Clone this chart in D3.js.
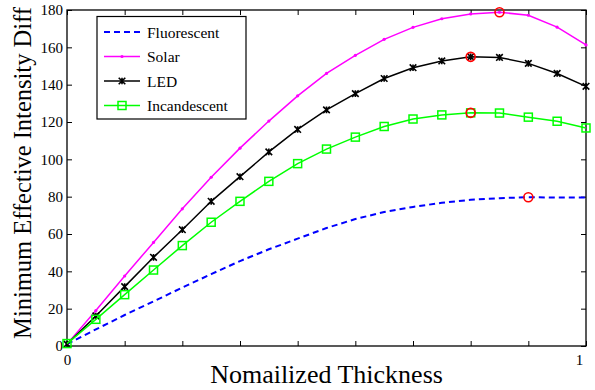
<!DOCTYPE html>
<html>
<head>
<meta charset="utf-8">
<script src="https://cdn.jsdelivr.net/npm/d3@7"></script>
<style>
  body { margin: 0; background: #fff; }
</style>
</head>
<body>
<div id="chart"></div>
<script>
var width = 595,
    height = 390,
    margin = {top: 10, right: 9, bottom: 44, left: 67},
    serif = '"Liberation Serif", "Times New Roman", Times, serif';

// normalised thickness, 19 samples
var thickness = [0, 0.0556, 0.1111, 0.1667, 0.2222, 0.2778, 0.3333, 0.3889, 0.4444, 0.5,
                 0.5556, 0.6111, 0.6667, 0.7222, 0.7778, 0.8333, 0.8889, 0.9444, 1];

var fluorescent = [1, 8.9, 16.6, 23.9, 31.3, 38.5, 45.5, 51.8, 57.5, 63.2,
                   68.0, 71.8, 74.5, 76.7, 78.3, 79.2, 79.7, 79.5, 79.5];
var solar = [1, 19, 37.5, 55.5, 73.5, 90.4, 106, 120.5, 134, 146,
             155.7, 164.3, 170.7, 175.3, 177.9, 178.8, 177.2, 170.8, 161.3];
var led = [1, 16.1, 31.8, 47.5, 62.3, 77.5, 90.7, 104.0, 116.0, 126.5,
           135.2, 143.3, 149.1, 152.7, 154.9, 154.6, 151.4, 146.0, 139.1];
var incandescent = [1.3, 14.3, 27.5, 40.7, 53.8, 66.3, 77.5, 88.2, 97.7, 105.5,
                    111.9, 117.6, 121.6, 123.8, 124.9, 124.8, 122.6, 120.4, 116.8];

var seriesNames = ['Fluorescent', 'Solar', 'LED', 'Incandescent'];
var yTicks = [0, 20, 40, 60, 80, 100, 120, 140, 160, 180];
var xTicks = [0, 1/9, 2/9, 3/9, 4/9, 5/9, 6/9, 7/9, 8/9, 1];
var xTickLabels = {0: '0', 1: '1'};

var series = [
  {name: seriesNames[0], values: fluorescent, color: '#0000ff', dash: '6,4', marker: 'none'},
  {name: seriesNames[1], values: solar, color: '#ff00ff', dash: null, marker: 'dot'},
  {name: seriesNames[2], values: led, color: '#000000', dash: null, marker: 'star'},
  {name: seriesNames[3], values: incandescent, color: '#00ff00', dash: null, marker: 'square'}
];

var svg = d3.select('#chart').append('svg')
    .attr('width', width)
    .attr('height', height);

var w = width - margin.left - margin.right,
    h = height - margin.top - margin.bottom;

var x = d3.scaleLinear().domain([0, 1]).range([margin.left, margin.left + w]);
var y = d3.scaleLinear().domain([0, 180]).range([margin.top + h, margin.top]);

// axes (ticks point inward, box all round)
function styleAxis(g) {
  g.attr('font-family', serif);
  g.select('.domain').remove();
  g.selectAll('.tick line').attr('stroke', '#000').attr('stroke-width', 1);
  g.selectAll('.tick text')
    .style('font-family', serif)
    .style('font-size', '15px')
    .attr('fill', '#000');
}

svg.append('g')
    .attr('transform', 'translate(0,' + (margin.top + h) + ')')
    .call(d3.axisBottom(x).tickValues(xTicks).tickSizeInner(-5).tickSizeOuter(0)
      .tickPadding(8).tickFormat(function(d) { return xTickLabels[d] || ''; }))
    .call(styleAxis)
    .selectAll('.tick text')
    .attr('dx', function(d) { return d === 1 ? -7 : 0; });

svg.append('g')
    .attr('transform', 'translate(0,' + margin.top + ')')
    .call(d3.axisTop(x).tickValues(xTicks).tickSizeInner(-5).tickSizeOuter(0).tickFormat(''))
    .call(styleAxis);

svg.append('g')
    .attr('transform', 'translate(' + margin.left + ',0)')
    .call(d3.axisLeft(y).tickValues(yTicks).tickSizeInner(-5).tickSizeOuter(0).tickPadding(4))
    .call(styleAxis);

svg.append('g')
    .attr('transform', 'translate(' + (margin.left + w) + ',0)')
    .call(d3.axisRight(y).tickValues(yTicks).tickSizeInner(-5).tickSizeOuter(0).tickFormat(''))
    .call(styleAxis);

svg.append('rect')
    .attr('x', margin.left).attr('y', margin.top)
    .attr('width', w).attr('height', h)
    .attr('fill', 'none').attr('stroke', '#000').attr('stroke-width', 1.3);

// lines
var line = d3.line()
    .x(function(d, i) { return x(thickness[i]); })
    .y(function(d) { return y(d); });

function drawMarker(g, type, color, cx, cy) {
  if (type === 'dot') {
    g.append('circle').attr('cx', cx).attr('cy', cy).attr('r', 1.6).attr('fill', color);
  } else if (type === 'star') {
    var s = 3.3;
    g.append('path')
      .attr('d', 'M' + (cx - s) + ',' + (cy - s) + 'L' + (cx + s) + ',' + (cy + s) +
                 'M' + (cx - s) + ',' + (cy + s) + 'L' + (cx + s) + ',' + (cy - s) +
                 'M' + cx + ',' + (cy - s) + 'L' + cx + ',' + (cy + s))
      .attr('stroke', color).attr('stroke-width', 1.6).attr('fill', 'none');
  } else if (type === 'square') {
    g.append('rect').attr('x', cx - 4).attr('y', cy - 4).attr('width', 8).attr('height', 8)
      .attr('fill', 'none').attr('stroke', color).attr('stroke-width', 1.5);
  }
}

series.forEach(function(s) {
  svg.append('path')
    .attr('d', line(s.values))
    .attr('fill', 'none')
    .attr('stroke', s.color)
    .attr('stroke-width', s.dash ? 2 : 1.5)
    .attr('stroke-dasharray', s.dash);
  var g = svg.append('g');
  s.values.forEach(function(v, i) {
    drawMarker(g, s.marker, s.color, x(thickness[i]), y(v));
  });
});

// peak circles
series.forEach(function(s) {
  var k = d3.maxIndex(s.values);
  svg.append('circle')
    .attr('cx', x(thickness[k])).attr('cy', y(s.values[k]))
    .attr('r', 4.5)
    .attr('fill', 'none').attr('stroke', '#ff0000').attr('stroke-width', 1.6);
});

// legend
var legend = svg.append('g').attr('transform', 'translate(97,16.5)');
legend.append('rect')
    .attr('width', 149).attr('height', 102.5)
    .attr('fill', '#fff').attr('stroke', '#000').attr('stroke-width', 1.2);

series.forEach(function(s, i) {
  var ly = 15.5 + i * 24.5;
  legend.append('line')
    .attr('x1', 7).attr('x2', 43).attr('y1', ly).attr('y2', ly)
    .attr('stroke', s.color)
    .attr('stroke-width', s.dash ? 2 : 1.5)
    .attr('stroke-dasharray', s.dash);
  drawMarker(legend, s.marker, s.color, 25, ly);
  legend.append('text')
    .attr('x', 50).attr('y', ly + 5.5)
    .style('font-family', serif)
    .style('font-size', '15.5px')
    .text(s.name);
});

// titles
svg.append('text')
    .attr('x', margin.left + w / 2).attr('y', 383)
    .attr('text-anchor', 'middle')
    .style('font-family', serif)
    .style('font-size', '26px')
    .text('Nomailized Thickness');

svg.append('text')
    .attr('transform', 'translate(31,173) rotate(-90)')
    .attr('text-anchor', 'middle')
    .style('font-family', serif)
    .style('font-size', '24.5px')
    .text('Minimum Effective Intensity Diff');
</script>
</body>
</html>
